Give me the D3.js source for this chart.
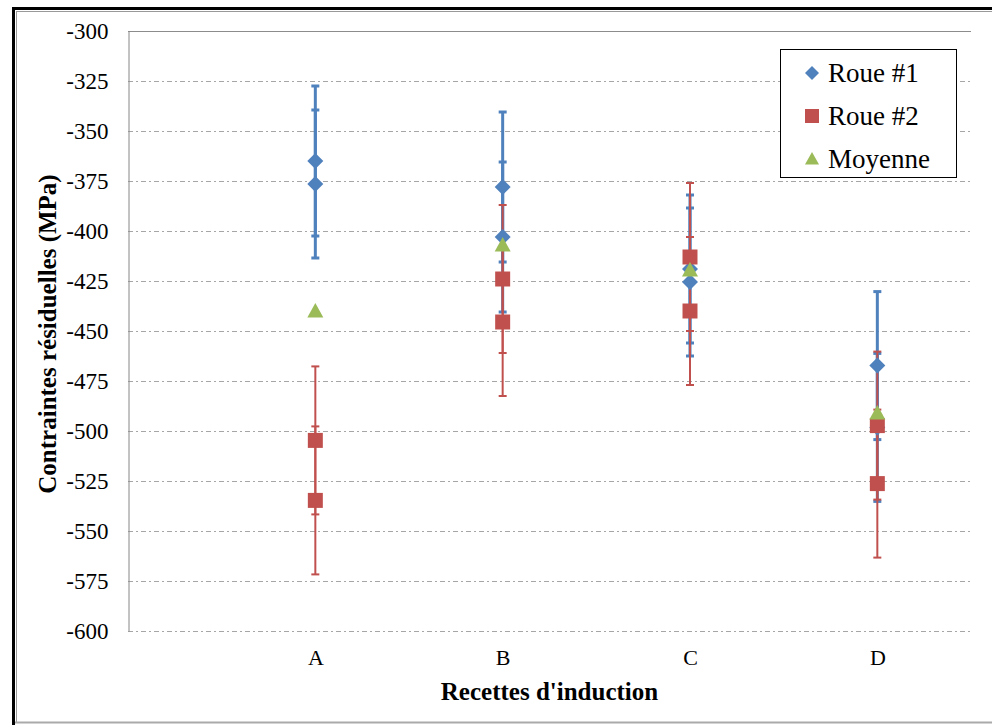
<!DOCTYPE html>
<html><head><meta charset="utf-8">
<script src="https://cdn.jsdelivr.net/npm/d3@7"></script>
<style>body{margin:0;background:#fff}svg{display:block}</style>
</head><body>
<script>
const categories = ["A","B","C","D"];
const categoryX = [1,2,3,4];
const yTicks = [-300,-325,-350,-375,-400,-425,-450,-475,-500,-525,-550,-575,-600];
const roue1X = [1,1,2,2,3,3,4,4];
const roue1Y = [-365,-376.5,-378,-403,-419,-425.5,-467.3,-498.2];
const roue1Err = [37.5,37,37.5,37.5,37,37,37,37];
const roue2X = [1,1,2,2,3,3,4,4];
const roue2Y = [-504.7,-534.7,-424,-445.5,-413,-440,-497.3,-526.3];
const roue2Err = [37,37,37,37,37,37,37,37];
const moyenneX = [1,2,3,4];
const moyenneY = [-440,-407,-419.5,-491];
const seriesNames = ["Roue #1","Roue #2","Moyenne"];
const colors = ["#4F81BD","#C0504D","#9BBB59"];

const W=992,H=725;
const svg=d3.select("body").append("svg").attr("width",W).attr("height",H);
const x=d3.scaleLinear().domain([0,4.5]).range([128,971]);
const y=d3.scaleLinear().domain([-600,-300]).range([631,31]);
const serif="'Liberation Serif','Times New Roman',serif";

// outer frame
svg.append("line").attr("x1",13.5).attr("x2",13.5).attr("y1",7).attr("y2",725).attr("stroke","#000").attr("stroke-width",3);
svg.append("line").attr("x1",12).attr("x2",992).attr("y1",8.5).attr("y2",8.5).attr("stroke","#000").attr("stroke-width",3);
svg.append("line").attr("x1",16.5).attr("x2",16.5).attr("y1",11).attr("y2",722).attr("stroke","#999").attr("stroke-width",1);
svg.append("line").attr("x1",16).attr("x2",992).attr("y1",11.5).attr("y2",11.5).attr("stroke","#999").attr("stroke-width",1);
svg.append("line").attr("x1",15).attr("x2",992).attr("y1",722.5).attr("y2",722.5).attr("stroke","#aaa").attr("stroke-width",2);

// gridlines
svg.append("g").selectAll("line").data(yTicks.filter(d=>d!==-300)).join("line")
  .attr("x1",x(0)).attr("x2",x(4.5)).attr("y1",d=>Math.round(y(d))+0.5).attr("y2",d=>Math.round(y(d))+0.5)
  .attr("stroke","#a6a6a6").attr("stroke-width",1).attr("stroke-dasharray","5,3,2,3");
svg.append("line").attr("x1",x(0)).attr("x2",x(4.5)).attr("y1",Math.round(y(-300))+0.5).attr("y2",Math.round(y(-300))+0.5)
  .attr("stroke","#8c8c8c").attr("stroke-width",1);

// y axis
const yAxis=d3.axisLeft(y).tickValues(yTicks).tickSize(0).tickPadding(20).tickFormat(d=>String(d));
const gy=svg.append("g").attr("transform",`translate(${x(0)+0.5},0)`).call(yAxis);
gy.select(".domain").attr("stroke","#868686");
gy.selectAll("text").attr("font-family",serif).attr("font-size",23).attr("fill","#000");

// x axis labels
const xAxis=d3.axisBottom(x).tickValues(categoryX).tickSize(0).tickPadding(18).tickFormat((d,i)=>categories[i]);
const gx=svg.append("g").attr("transform",`translate(0,${y(-600)})`).call(xAxis);
gx.select(".domain").remove();
gx.selectAll("text").attr("font-family",serif).attr("font-size",22).attr("fill","#000");

// titles
svg.append("text").attr("x",(x(0)+x(4.5))/2).attr("y",700).attr("text-anchor","middle")
  .attr("font-family",serif).attr("font-weight","bold").attr("font-size",25).text("Recettes d'induction");
svg.append("text").attr("transform",`translate(56,${(y(-300)+y(-600))/2+3}) rotate(-90)`).attr("text-anchor","middle")
  .attr("font-family",serif).attr("font-weight","bold").attr("font-size",25).text("Contraintes résiduelles (MPa)");

function errorBars(xs,ys,errs,color,w){
  const g=svg.append("g");
  xs.forEach((xv,i)=>{
    const cx=x(xv),t=y(ys[i]+errs[i]),b=y(ys[i]-errs[i]);
    g.append("line").attr("x1",cx).attr("x2",cx).attr("y1",t).attr("y2",b).attr("stroke",color).attr("stroke-width",w);
    [t,b].forEach(yy=>g.append("line").attr("x1",cx-4).attr("x2",cx+4).attr("y1",yy).attr("y2",yy).attr("stroke",color).attr("stroke-width",w));
  });
}
errorBars(roue1X,roue1Y,roue1Err,colors[0],3);
errorBars(roue2X,roue2Y,roue2Err,colors[1],2);

const diamond=s=>`M0,${-s}L${s},0L0,${s}L${-s},0Z`;
const square=s=>`M${-s},${-s}H${s}V${s}H${-s}Z`;
const tri=s=>`M0,${-s}L${s},${s*0.8}L${-s},${s*0.8}Z`;

svg.append("g").selectAll("path").data(roue1X).join("path")
  .attr("d",diamond(8)).attr("transform",(d,i)=>`translate(${x(d)},${y(roue1Y[i])})`).attr("fill",colors[0]);
svg.append("g").selectAll("path").data(roue2X).join("path")
  .attr("d",square(7.5)).attr("transform",(d,i)=>`translate(${x(d)},${y(roue2Y[i])})`).attr("fill",colors[1]);
svg.append("g").selectAll("path").data(moyenneX).join("path")
  .attr("d",tri(8)).attr("transform",(d,i)=>`translate(${x(d)},${y(moyenneY[i])})`).attr("fill",colors[2]);

// legend
const lg=svg.append("g");
lg.append("rect").attr("x",780.5).attr("y",49.5).attr("width",176).attr("height",128).attr("fill","#fff").attr("stroke","#000").attr("stroke-width",1);
const shapes=[diamond(7),square(7),tri(7)];
seriesNames.forEach((n,i)=>{
  const cy=73+i*43;
  lg.append("path").attr("d",shapes[i]).attr("transform",`translate(812,${cy})`).attr("fill",colors[i]);
  lg.append("text").attr("x",828).attr("y",cy+9).attr("font-family",serif).attr("font-size",27).text(n);
});
</script>
</body></html>
